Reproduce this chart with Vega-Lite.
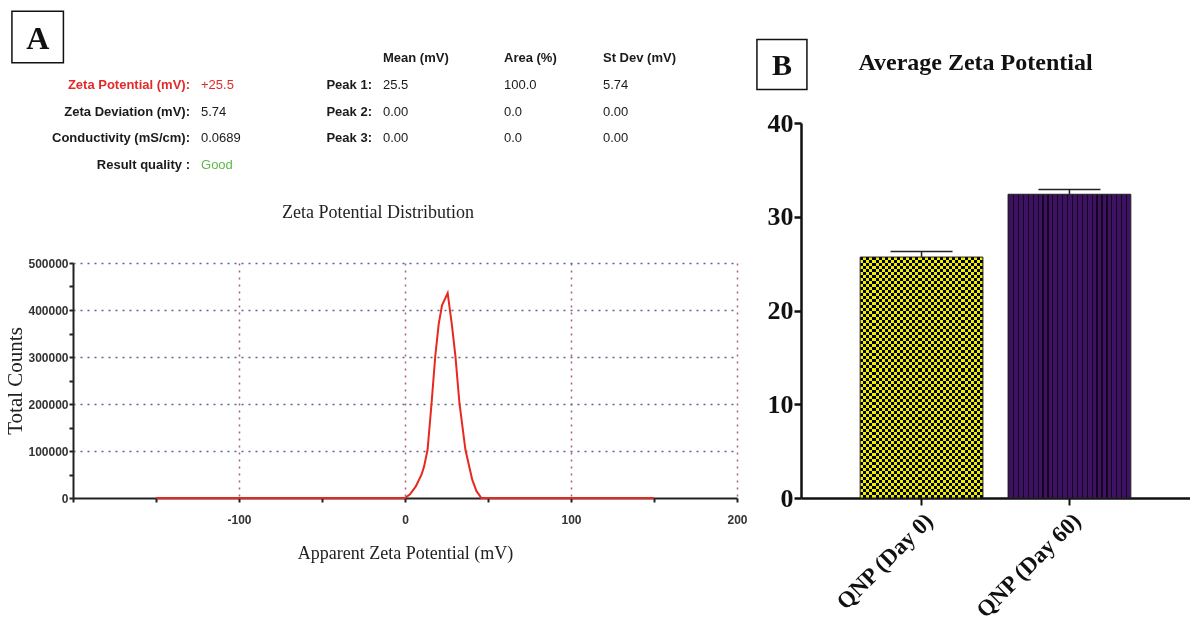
{
  "$schema": "https://vega.github.io/schema/vega-lite/v6.json",
  "background": "white",
  "padding": {"left": 4, "top": 8, "right": 0, "bottom": 0},
  "config": {"view": {"stroke": null}},
  "datasets": {
    "panels": [{"panel": "A"}, {"panel": "B"}],
    "summary": [
      {"row": 1, "label": "Zeta Potential (mV):", "value": "+25.5"},
      {"row": 2, "label": "Zeta Deviation (mV):", "value": "5.74"},
      {"row": 3, "label": "Conductivity (mS/cm):", "value": "0.0689"},
      {"row": 4, "label": "Result quality :", "value": "Good"}
    ],
    "peakHeader": [{"row": 0, "mean": "Mean (mV)", "area": "Area (%)", "sd": "St Dev (mV)"}],
    "peaks": [
      {"row": 1, "peak": "Peak 1:", "mean": "25.5", "area": "100.0", "sd": "5.74"},
      {"row": 2, "peak": "Peak 2:", "mean": "0.00", "area": "0.0", "sd": "0.00"},
      {"row": 3, "peak": "Peak 3:", "mean": "0.00", "area": "0.0", "sd": "0.00"}
    ],
    "distribution": [
      {"mv": -150, "counts": 0},
      {"mv": 0, "counts": 0},
      {"mv": 3, "counts": 8000},
      {"mv": 6.5, "counts": 24750},
      {"mv": 10, "counts": 50000},
      {"mv": 11.5, "counts": 67200},
      {"mv": 13.6, "counts": 102500},
      {"mv": 16, "counts": 201600},
      {"mv": 18.2, "counts": 300600},
      {"mv": 20.3, "counts": 370000},
      {"mv": 22.3, "counts": 410000},
      {"mv": 25.7, "counts": 436000},
      {"mv": 28.2, "counts": 370000},
      {"mv": 30.4, "counts": 300600},
      {"mv": 32.8, "counts": 201600},
      {"mv": 36.4, "counts": 102500},
      {"mv": 40.5, "counts": 38900},
      {"mv": 43, "counts": 15000},
      {"mv": 46, "counts": 0},
      {"mv": 150, "counts": 0}
    ],
    "average": [
      {"group": "QNP (Day 0)", "mean": 25.7, "upper": 26.3},
      {"group": "QNP (Day 60)", "mean": 32.4, "upper": 32.9}
    ]
  },
  "spacing": 5,
  "hconcat": [
    {
      "spacing": 88,
      "bounds": "flush",
      "vconcat": [
        {
          "width": 664,
          "height": 165,
          "layer": [
            {
              "data": {"name": "panels"},
              "transform": [{"filter": "datum.panel === 'A'"}],
              "mark": {"type": "point", "shape": "square", "size": 2650, "filled": false, "color": "#111", "strokeWidth": 1.5, "opacity": 1, "clip": false},
              "encoding": {
                "x": {"datum": -5.32, "type": "quantitative", "scale": {"domain": [0, 100], "nice": false, "zero": false}, "axis": null},
                "y": {"datum": -0.81, "type": "quantitative", "scale": {"domain": [-1.83, 4.396], "reverse": true, "nice": false, "zero": false}, "axis": null}
              }
            },
            {
              "data": {"name": "panels"},
              "transform": [{"filter": "datum.panel === 'A'"}],
              "mark": {"type": "text", "font": "Liberation Serif", "fontSize": 32, "fontWeight": "bold", "color": "#111", "align": "center", "baseline": "middle", "dy": 2, "clip": false},
              "encoding": {
                "x": {"datum": -5.32, "type": "quantitative", "scale": {"domain": [0, 100], "nice": false, "zero": false}, "axis": null},
                "y": {"datum": -0.81, "type": "quantitative", "scale": {"domain": [-1.83, 4.396], "reverse": true, "nice": false, "zero": false}, "axis": null},
                "text": {"field": "panel"}
              }
            },
            {
              "data": {"name": "summary"},
              "mark": {"type": "text", "font": "Liberation Sans", "fontSize": 13, "fontWeight": "bold", "align": "right", "baseline": "middle"},
              "encoding": {
                "x": {"datum": 17.62, "type": "quantitative", "scale": {"domain": [0, 100], "nice": false, "zero": false}, "axis": null},
                "y": {"field": "row", "type": "quantitative", "scale": {"domain": [-1.83, 4.396], "reverse": true, "nice": false, "zero": false}, "axis": null},
                "text": {"field": "label"},
                "color": {"condition": {"test": "datum.row === 1", "value": "#e32a2a"}, "value": "#1a1a1a"}
              }
            },
            {
              "data": {"name": "summary"},
              "mark": {"type": "text", "font": "Liberation Sans", "fontSize": 13, "align": "left", "baseline": "middle"},
              "encoding": {
                "x": {"datum": 19.28, "type": "quantitative", "scale": {"domain": [0, 100], "nice": false, "zero": false}, "axis": null},
                "y": {"field": "row", "type": "quantitative", "scale": {"domain": [-1.83, 4.396], "reverse": true, "nice": false, "zero": false}, "axis": null},
                "text": {"field": "value"},
                "color": {"condition": [{"test": "datum.row === 1", "value": "#e32a2a"}, {"test": "datum.row === 4", "value": "#5cba4a"}], "value": "#1a1a1a"}
              }
            },
            {
              "data": {"name": "peaks"},
              "mark": {"type": "text", "font": "Liberation Sans", "fontSize": 13, "fontWeight": "bold", "align": "right", "baseline": "middle", "color": "#1a1a1a"},
              "encoding": {
                "x": {"datum": 45.03, "type": "quantitative", "scale": {"domain": [0, 100], "nice": false, "zero": false}, "axis": null},
                "y": {"field": "row", "type": "quantitative", "scale": {"domain": [-1.83, 4.396], "reverse": true, "nice": false, "zero": false}, "axis": null},
                "text": {"field": "peak"}
              }
            },
            {
              "data": {"name": "peaks"},
              "mark": {"type": "text", "font": "Liberation Sans", "fontSize": 13, "align": "left", "baseline": "middle", "color": "#1a1a1a"},
              "encoding": {
                "x": {"datum": 46.69, "type": "quantitative", "scale": {"domain": [0, 100], "nice": false, "zero": false}, "axis": null},
                "y": {"field": "row", "type": "quantitative", "scale": {"domain": [-1.83, 4.396], "reverse": true, "nice": false, "zero": false}, "axis": null},
                "text": {"field": "mean"}
              }
            },
            {
              "data": {"name": "peaks"},
              "mark": {"type": "text", "font": "Liberation Sans", "fontSize": 13, "align": "left", "baseline": "middle", "color": "#1a1a1a"},
              "encoding": {
                "x": {"datum": 64.91, "type": "quantitative", "scale": {"domain": [0, 100], "nice": false, "zero": false}, "axis": null},
                "y": {"field": "row", "type": "quantitative", "scale": {"domain": [-1.83, 4.396], "reverse": true, "nice": false, "zero": false}, "axis": null},
                "text": {"field": "area"}
              }
            },
            {
              "data": {"name": "peaks"},
              "mark": {"type": "text", "font": "Liberation Sans", "fontSize": 13, "align": "left", "baseline": "middle", "color": "#1a1a1a"},
              "encoding": {
                "x": {"datum": 79.82, "type": "quantitative", "scale": {"domain": [0, 100], "nice": false, "zero": false}, "axis": null},
                "y": {"field": "row", "type": "quantitative", "scale": {"domain": [-1.83, 4.396], "reverse": true, "nice": false, "zero": false}, "axis": null},
                "text": {"field": "sd"}
              }
            },
            {
              "data": {"name": "peakHeader"},
              "mark": {"type": "text", "font": "Liberation Sans", "fontSize": 13, "fontWeight": "bold", "align": "left", "baseline": "middle", "color": "#1a1a1a"},
              "encoding": {
                "x": {"datum": 46.69, "type": "quantitative", "scale": {"domain": [0, 100], "nice": false, "zero": false}, "axis": null},
                "y": {"field": "row", "type": "quantitative", "scale": {"domain": [-1.83, 4.396], "reverse": true, "nice": false, "zero": false}, "axis": null},
                "text": {"field": "mean"}
              }
            },
            {
              "data": {"name": "peakHeader"},
              "mark": {"type": "text", "font": "Liberation Sans", "fontSize": 13, "fontWeight": "bold", "align": "left", "baseline": "middle", "color": "#1a1a1a"},
              "encoding": {
                "x": {"datum": 64.91, "type": "quantitative", "scale": {"domain": [0, 100], "nice": false, "zero": false}, "axis": null},
                "y": {"field": "row", "type": "quantitative", "scale": {"domain": [-1.83, 4.396], "reverse": true, "nice": false, "zero": false}, "axis": null},
                "text": {"field": "area"}
              }
            },
            {
              "data": {"name": "peakHeader"},
              "mark": {"type": "text", "font": "Liberation Sans", "fontSize": 13, "fontWeight": "bold", "align": "left", "baseline": "middle", "color": "#1a1a1a"},
              "encoding": {
                "x": {"datum": 79.82, "type": "quantitative", "scale": {"domain": [0, 100], "nice": false, "zero": false}, "axis": null},
                "y": {"field": "row", "type": "quantitative", "scale": {"domain": [-1.83, 4.396], "reverse": true, "nice": false, "zero": false}, "axis": null},
                "text": {"field": "sd"}
              }
            }
          ]
        },
        {
          "width": 664,
          "height": 235,
          "data": {"name": "distribution"},
          "title": {"text": "Zeta Potential Distribution", "font": "Liberation Serif", "fontSize": 18, "fontWeight": "normal", "color": "#222", "anchor": "middle", "dx": -27, "offset": 35},
          "mark": {"type": "line", "color": "#e8281e", "strokeWidth": 2},
          "encoding": {
            "x": {
              "field": "mv", "type": "quantitative",
              "scale": {"domain": [-200, 200], "nice": false, "zero": false},
              "axis": {
                "title": "Apparent Zeta Potential (mV)", "titleFont": "Liberation Serif", "titleFontSize": 18, "titleFontWeight": "normal", "titleColor": "#222", "titlePadding": 19,
                "values": [-200, -150, -100, -50, 0, 50, 100, 150, 200],
                "labelExpr": "datum.value % 100 === 0 && datum.value > -200 ? '' + datum.value : ''",
                "labelFont": "Liberation Sans", "labelFontSize": 12, "labelFontWeight": "bold", "labelColor": "#333", "labelPadding": 12,
                "labelFlush": false, "labelOverlap": false,
                "domainColor": "#222", "domainWidth": 2, "tickColor": "#222", "tickWidth": 2, "tickSize": 4,
                "grid": true, "gridColor": "#a8607e", "gridDash": [2, 5], "gridWidth": 1.5,
                "gridOpacity": {"condition": {"test": "datum.value % 100 === 0 && datum.value > -200", "value": 1}, "value": 0}
              }
            },
            "y": {
              "field": "counts", "type": "quantitative",
              "scale": {"domain": [0, 500000], "nice": false},
              "axis": {
                "title": "Total Counts", "titleFont": "Liberation Serif", "titleFontSize": 21, "titleFontWeight": "normal", "titleColor": "#222", "titlePadding": 2,
                "values": [0, 50000, 100000, 150000, 200000, 250000, 300000, 350000, 400000, 450000, 500000],
                "labelExpr": "datum.value % 100000 === 0 ? '' + datum.value : ''",
                "labelFont": "Liberation Sans", "labelFontSize": 12, "labelFontWeight": "bold", "labelColor": "#333", "labelPadding": 1,
                "labelOverlap": false,
                "domainColor": "#222", "domainWidth": 2, "tickColor": "#222", "tickWidth": 2, "tickSize": 4,
                "grid": true, "gridColor": "#5a6790", "gridDash": [2, 5], "gridWidth": 1.5,
                "gridOpacity": {"condition": {"test": "datum.value % 100000 === 0 && datum.value > 0", "value": 1}, "value": 0}
              }
            }
          }
        }
      ]
    },
    {
      "spacing": 20,
      "bounds": "flush",
      "vconcat": [
        {
          "width": 389,
          "height": 93,
          "data": {"name": "panels"},
          "transform": [{"filter": "datum.panel === 'B'"}],
          "encoding": {
            "x": {"datum": -4.9, "type": "quantitative", "scale": {"domain": [0, 100], "nice": false, "zero": false}, "axis": null},
            "y": {"datum": 58.6, "type": "quantitative", "scale": {"domain": [0, 100], "reverse": true, "nice": false, "zero": false}, "axis": null}
          },
          "layer": [
            {"mark": {"type": "point", "shape": "square", "size": 2500, "filled": false, "color": "#111", "strokeWidth": 1.5, "opacity": 1, "clip": false}},
            {"mark": {"type": "text", "font": "Liberation Serif", "fontSize": 30, "fontWeight": "bold", "color": "#111", "align": "center", "baseline": "middle", "dy": 2, "clip": false}, "encoding": {"text": {"field": "panel"}}}
          ]
        },
        {
          "width": 389,
          "height": 375,
          "data": {"name": "average"},
          "title": {"text": "Average Zeta Potential", "font": "Liberation Serif", "fontSize": 24, "fontWeight": "bold", "color": "#111", "anchor": "middle", "dx": -20, "offset": 35},
          "encoding": {
            "x": {
              "field": "group", "type": "nominal", "sort": null,
              "scale": {"domain": ["QNP (Day 0)", "QNP (Day 60)"], "paddingInner": 0.17, "paddingOuter": 0.4},
              "axis": {"title": null, "labelAngle": -45, "labelFont": "Liberation Serif", "labelFontSize": 23, "labelFontWeight": "bold", "labelColor": "#111", "labelPadding": 4, "domainColor": "#111", "domainWidth": 2.5, "tickColor": "#111", "tickWidth": 2, "tickSize": 7, "grid": false}
            },
            "y": {
              "field": "mean", "type": "quantitative",
              "scale": {"domain": [0, 40], "nice": false},
              "axis": {"title": null, "values": [0, 10, 20, 30, 40], "labelFont": "Liberation Serif", "labelFontSize": 26, "labelFontWeight": "bold", "labelColor": "#111", "labelPadding": 1, "domainColor": "#111", "domainWidth": 2.5, "tickColor": "#111", "tickWidth": 2.5, "tickSize": 7, "grid": false}
            }
          },
          "layer": [
            {
              "transform": [{"filter": "datum.group === 'QNP (Day 0)'"}],
              "mark": {"type": "bar", "fill": {"gradient": "linear", "x1": 0, "y1": 0, "x2": 1, "y2": 0, "stops": [
                {"offset":0,"color":"#ee0"},{"offset":0.025,"color":"#ee0"},{"offset":0.025,"color":"#000"},{"offset":0.05,"color":"#000"},
                {"offset":0.05,"color":"#ee0"},{"offset":0.075,"color":"#ee0"},{"offset":0.075,"color":"#000"},{"offset":0.1,"color":"#000"},
                {"offset":0.1,"color":"#ee0"},{"offset":0.125,"color":"#ee0"},{"offset":0.125,"color":"#000"},{"offset":0.15,"color":"#000"},
                {"offset":0.15,"color":"#ee0"},{"offset":0.175,"color":"#ee0"},{"offset":0.175,"color":"#000"},{"offset":0.2,"color":"#000"},
                {"offset":0.2,"color":"#ee0"},{"offset":0.225,"color":"#ee0"},{"offset":0.225,"color":"#000"},{"offset":0.25,"color":"#000"},
                {"offset":0.25,"color":"#ee0"},{"offset":0.275,"color":"#ee0"},{"offset":0.275,"color":"#000"},{"offset":0.3,"color":"#000"},
                {"offset":0.3,"color":"#ee0"},{"offset":0.325,"color":"#ee0"},{"offset":0.325,"color":"#000"},{"offset":0.35,"color":"#000"},
                {"offset":0.35,"color":"#ee0"},{"offset":0.375,"color":"#ee0"},{"offset":0.375,"color":"#000"},{"offset":0.4,"color":"#000"},
                {"offset":0.4,"color":"#ee0"},{"offset":0.425,"color":"#ee0"},{"offset":0.425,"color":"#000"},{"offset":0.45,"color":"#000"},
                {"offset":0.45,"color":"#ee0"},{"offset":0.475,"color":"#ee0"},{"offset":0.475,"color":"#000"},{"offset":0.5,"color":"#000"},
                {"offset":0.5,"color":"#ee0"},{"offset":0.525,"color":"#ee0"},{"offset":0.525,"color":"#000"},{"offset":0.55,"color":"#000"},
                {"offset":0.55,"color":"#ee0"},{"offset":0.575,"color":"#ee0"},{"offset":0.575,"color":"#000"},{"offset":0.6,"color":"#000"},
                {"offset":0.6,"color":"#ee0"},{"offset":0.625,"color":"#ee0"},{"offset":0.625,"color":"#000"},{"offset":0.65,"color":"#000"},
                {"offset":0.65,"color":"#ee0"},{"offset":0.675,"color":"#ee0"},{"offset":0.675,"color":"#000"},{"offset":0.7,"color":"#000"},
                {"offset":0.7,"color":"#ee0"},{"offset":0.725,"color":"#ee0"},{"offset":0.725,"color":"#000"},{"offset":0.75,"color":"#000"},
                {"offset":0.75,"color":"#ee0"},{"offset":0.775,"color":"#ee0"},{"offset":0.775,"color":"#000"},{"offset":0.8,"color":"#000"},
                {"offset":0.8,"color":"#ee0"},{"offset":0.825,"color":"#ee0"},{"offset":0.825,"color":"#000"},{"offset":0.85,"color":"#000"},
                {"offset":0.85,"color":"#ee0"},{"offset":0.875,"color":"#ee0"},{"offset":0.875,"color":"#000"},{"offset":0.9,"color":"#000"},
                {"offset":0.9,"color":"#ee0"},{"offset":0.925,"color":"#ee0"},{"offset":0.925,"color":"#000"},{"offset":0.95,"color":"#000"},
                {"offset":0.95,"color":"#ee0"},{"offset":0.975,"color":"#ee0"},{"offset":0.975,"color":"#000"},{"offset":1,"color":"#000"}
              ]}}
            },
            {
              "transform": [{"filter": "datum.group === 'QNP (Day 0)'"}],
              "mark": {"type": "bar", "blend": "difference", "fill": {"gradient": "linear", "x1": 0, "y1": 0, "x2": 0, "y2": 1, "stops": [
                {"offset":0,"color":"#ee0"},{"offset":0.0125,"color":"#ee0"},{"offset":0.0125,"color":"#000"},{"offset":0.025,"color":"#000"},
                {"offset":0.025,"color":"#ee0"},{"offset":0.0375,"color":"#ee0"},{"offset":0.0375,"color":"#000"},{"offset":0.05,"color":"#000"},
                {"offset":0.05,"color":"#ee0"},{"offset":0.0625,"color":"#ee0"},{"offset":0.0625,"color":"#000"},{"offset":0.075,"color":"#000"},
                {"offset":0.075,"color":"#ee0"},{"offset":0.0875,"color":"#ee0"},{"offset":0.0875,"color":"#000"},{"offset":0.1,"color":"#000"},
                {"offset":0.1,"color":"#ee0"},{"offset":0.1125,"color":"#ee0"},{"offset":0.1125,"color":"#000"},{"offset":0.125,"color":"#000"},
                {"offset":0.125,"color":"#ee0"},{"offset":0.1375,"color":"#ee0"},{"offset":0.1375,"color":"#000"},{"offset":0.15,"color":"#000"},
                {"offset":0.15,"color":"#ee0"},{"offset":0.1625,"color":"#ee0"},{"offset":0.1625,"color":"#000"},{"offset":0.175,"color":"#000"},
                {"offset":0.175,"color":"#ee0"},{"offset":0.1875,"color":"#ee0"},{"offset":0.1875,"color":"#000"},{"offset":0.2,"color":"#000"},
                {"offset":0.2,"color":"#ee0"},{"offset":0.2125,"color":"#ee0"},{"offset":0.2125,"color":"#000"},{"offset":0.225,"color":"#000"},
                {"offset":0.225,"color":"#ee0"},{"offset":0.2375,"color":"#ee0"},{"offset":0.2375,"color":"#000"},{"offset":0.25,"color":"#000"},
                {"offset":0.25,"color":"#ee0"},{"offset":0.2625,"color":"#ee0"},{"offset":0.2625,"color":"#000"},{"offset":0.275,"color":"#000"},
                {"offset":0.275,"color":"#ee0"},{"offset":0.2875,"color":"#ee0"},{"offset":0.2875,"color":"#000"},{"offset":0.3,"color":"#000"},
                {"offset":0.3,"color":"#ee0"},{"offset":0.3125,"color":"#ee0"},{"offset":0.3125,"color":"#000"},{"offset":0.325,"color":"#000"},
                {"offset":0.325,"color":"#ee0"},{"offset":0.3375,"color":"#ee0"},{"offset":0.3375,"color":"#000"},{"offset":0.35,"color":"#000"},
                {"offset":0.35,"color":"#ee0"},{"offset":0.3625,"color":"#ee0"},{"offset":0.3625,"color":"#000"},{"offset":0.375,"color":"#000"},
                {"offset":0.375,"color":"#ee0"},{"offset":0.3875,"color":"#ee0"},{"offset":0.3875,"color":"#000"},{"offset":0.4,"color":"#000"},
                {"offset":0.4,"color":"#ee0"},{"offset":0.4125,"color":"#ee0"},{"offset":0.4125,"color":"#000"},{"offset":0.425,"color":"#000"},
                {"offset":0.425,"color":"#ee0"},{"offset":0.4375,"color":"#ee0"},{"offset":0.4375,"color":"#000"},{"offset":0.45,"color":"#000"},
                {"offset":0.45,"color":"#ee0"},{"offset":0.4625,"color":"#ee0"},{"offset":0.4625,"color":"#000"},{"offset":0.475,"color":"#000"},
                {"offset":0.475,"color":"#ee0"},{"offset":0.4875,"color":"#ee0"},{"offset":0.4875,"color":"#000"},{"offset":0.5,"color":"#000"},
                {"offset":0.5,"color":"#ee0"},{"offset":0.5125,"color":"#ee0"},{"offset":0.5125,"color":"#000"},{"offset":0.525,"color":"#000"},
                {"offset":0.525,"color":"#ee0"},{"offset":0.5375,"color":"#ee0"},{"offset":0.5375,"color":"#000"},{"offset":0.55,"color":"#000"},
                {"offset":0.55,"color":"#ee0"},{"offset":0.5625,"color":"#ee0"},{"offset":0.5625,"color":"#000"},{"offset":0.575,"color":"#000"},
                {"offset":0.575,"color":"#ee0"},{"offset":0.5875,"color":"#ee0"},{"offset":0.5875,"color":"#000"},{"offset":0.6,"color":"#000"},
                {"offset":0.6,"color":"#ee0"},{"offset":0.6125,"color":"#ee0"},{"offset":0.6125,"color":"#000"},{"offset":0.625,"color":"#000"},
                {"offset":0.625,"color":"#ee0"},{"offset":0.6375,"color":"#ee0"},{"offset":0.6375,"color":"#000"},{"offset":0.65,"color":"#000"},
                {"offset":0.65,"color":"#ee0"},{"offset":0.6625,"color":"#ee0"},{"offset":0.6625,"color":"#000"},{"offset":0.675,"color":"#000"},
                {"offset":0.675,"color":"#ee0"},{"offset":0.6875,"color":"#ee0"},{"offset":0.6875,"color":"#000"},{"offset":0.7,"color":"#000"},
                {"offset":0.7,"color":"#ee0"},{"offset":0.7125,"color":"#ee0"},{"offset":0.7125,"color":"#000"},{"offset":0.725,"color":"#000"},
                {"offset":0.725,"color":"#ee0"},{"offset":0.7375,"color":"#ee0"},{"offset":0.7375,"color":"#000"},{"offset":0.75,"color":"#000"},
                {"offset":0.75,"color":"#ee0"},{"offset":0.7625,"color":"#ee0"},{"offset":0.7625,"color":"#000"},{"offset":0.775,"color":"#000"},
                {"offset":0.775,"color":"#ee0"},{"offset":0.7875,"color":"#ee0"},{"offset":0.7875,"color":"#000"},{"offset":0.8,"color":"#000"},
                {"offset":0.8,"color":"#ee0"},{"offset":0.8125,"color":"#ee0"},{"offset":0.8125,"color":"#000"},{"offset":0.825,"color":"#000"},
                {"offset":0.825,"color":"#ee0"},{"offset":0.8375,"color":"#ee0"},{"offset":0.8375,"color":"#000"},{"offset":0.85,"color":"#000"},
                {"offset":0.85,"color":"#ee0"},{"offset":0.8625,"color":"#ee0"},{"offset":0.8625,"color":"#000"},{"offset":0.875,"color":"#000"},
                {"offset":0.875,"color":"#ee0"},{"offset":0.8875,"color":"#ee0"},{"offset":0.8875,"color":"#000"},{"offset":0.9,"color":"#000"},
                {"offset":0.9,"color":"#ee0"},{"offset":0.9125,"color":"#ee0"},{"offset":0.9125,"color":"#000"},{"offset":0.925,"color":"#000"},
                {"offset":0.925,"color":"#ee0"},{"offset":0.9375,"color":"#ee0"},{"offset":0.9375,"color":"#000"},{"offset":0.95,"color":"#000"},
                {"offset":0.95,"color":"#ee0"},{"offset":0.9625,"color":"#ee0"},{"offset":0.9625,"color":"#000"},{"offset":0.975,"color":"#000"},
                {"offset":0.975,"color":"#ee0"},{"offset":0.9875,"color":"#ee0"},{"offset":0.9875,"color":"#000"},{"offset":1,"color":"#000"}
              ]}}
            },
            {
              "transform": [{"filter": "datum.group === 'QNP (Day 60)'"}],
              "mark": {"type": "bar", "fill": {"gradient": "linear", "x1": 0, "y1": 0, "x2": 1, "y2": 0, "stops": [
                {"offset":0,"color":"#14061e"},{"offset":0.01,"color":"#14061e"},{"offset":0.01,"color":"#3e1263"},{"offset":0.04,"color":"#3e1263"},
                {"offset":0.04,"color":"#14061e"},{"offset":0.05,"color":"#14061e"},{"offset":0.05,"color":"#3e1263"},{"offset":0.08,"color":"#3e1263"},
                {"offset":0.08,"color":"#14061e"},{"offset":0.09,"color":"#14061e"},{"offset":0.09,"color":"#3e1263"},{"offset":0.12,"color":"#3e1263"},
                {"offset":0.12,"color":"#14061e"},{"offset":0.13,"color":"#14061e"},{"offset":0.13,"color":"#3e1263"},{"offset":0.16,"color":"#3e1263"},
                {"offset":0.16,"color":"#14061e"},{"offset":0.17,"color":"#14061e"},{"offset":0.17,"color":"#3e1263"},{"offset":0.2,"color":"#3e1263"},
                {"offset":0.2,"color":"#14061e"},{"offset":0.21,"color":"#14061e"},{"offset":0.21,"color":"#3e1263"},{"offset":0.24,"color":"#3e1263"},
                {"offset":0.24,"color":"#14061e"},{"offset":0.25,"color":"#14061e"},{"offset":0.25,"color":"#3e1263"},{"offset":0.28,"color":"#3e1263"},
                {"offset":0.28,"color":"#14061e"},{"offset":0.29,"color":"#14061e"},{"offset":0.29,"color":"#3e1263"},{"offset":0.32,"color":"#3e1263"},
                {"offset":0.32,"color":"#14061e"},{"offset":0.33,"color":"#14061e"},{"offset":0.33,"color":"#3e1263"},{"offset":0.36,"color":"#3e1263"},
                {"offset":0.36,"color":"#14061e"},{"offset":0.37,"color":"#14061e"},{"offset":0.37,"color":"#3e1263"},{"offset":0.4,"color":"#3e1263"},
                {"offset":0.4,"color":"#14061e"},{"offset":0.41,"color":"#14061e"},{"offset":0.41,"color":"#3e1263"},{"offset":0.44,"color":"#3e1263"},
                {"offset":0.44,"color":"#14061e"},{"offset":0.45,"color":"#14061e"},{"offset":0.45,"color":"#3e1263"},{"offset":0.48,"color":"#3e1263"},
                {"offset":0.48,"color":"#14061e"},{"offset":0.49,"color":"#14061e"},{"offset":0.49,"color":"#3e1263"},{"offset":0.52,"color":"#3e1263"},
                {"offset":0.52,"color":"#14061e"},{"offset":0.53,"color":"#14061e"},{"offset":0.53,"color":"#3e1263"},{"offset":0.56,"color":"#3e1263"},
                {"offset":0.56,"color":"#14061e"},{"offset":0.57,"color":"#14061e"},{"offset":0.57,"color":"#3e1263"},{"offset":0.6,"color":"#3e1263"},
                {"offset":0.6,"color":"#14061e"},{"offset":0.61,"color":"#14061e"},{"offset":0.61,"color":"#3e1263"},{"offset":0.64,"color":"#3e1263"},
                {"offset":0.64,"color":"#14061e"},{"offset":0.65,"color":"#14061e"},{"offset":0.65,"color":"#3e1263"},{"offset":0.68,"color":"#3e1263"},
                {"offset":0.68,"color":"#14061e"},{"offset":0.69,"color":"#14061e"},{"offset":0.69,"color":"#3e1263"},{"offset":0.72,"color":"#3e1263"},
                {"offset":0.72,"color":"#14061e"},{"offset":0.73,"color":"#14061e"},{"offset":0.73,"color":"#3e1263"},{"offset":0.76,"color":"#3e1263"},
                {"offset":0.76,"color":"#14061e"},{"offset":0.77,"color":"#14061e"},{"offset":0.77,"color":"#3e1263"},{"offset":0.8,"color":"#3e1263"},
                {"offset":0.8,"color":"#14061e"},{"offset":0.81,"color":"#14061e"},{"offset":0.81,"color":"#3e1263"},{"offset":0.84,"color":"#3e1263"},
                {"offset":0.84,"color":"#14061e"},{"offset":0.85,"color":"#14061e"},{"offset":0.85,"color":"#3e1263"},{"offset":0.88,"color":"#3e1263"},
                {"offset":0.88,"color":"#14061e"},{"offset":0.89,"color":"#14061e"},{"offset":0.89,"color":"#3e1263"},{"offset":0.92,"color":"#3e1263"},
                {"offset":0.92,"color":"#14061e"},{"offset":0.93,"color":"#14061e"},{"offset":0.93,"color":"#3e1263"},{"offset":0.96,"color":"#3e1263"},
                {"offset":0.96,"color":"#14061e"},{"offset":0.97,"color":"#14061e"},{"offset":0.97,"color":"#3e1263"},{"offset":1,"color":"#3e1263"}
              ]}}
            },
            {
              "mark": {"type": "bar", "fillOpacity": 0, "stroke": "#222", "strokeWidth": 1}
            },
            {
              "mark": {"type": "rule", "color": "#222", "strokeWidth": 1.5},
              "encoding": {"y2": {"field": "upper"}}
            },
            {
              "mark": {"type": "tick", "color": "#222", "thickness": 1.5, "size": 62, "opacity": 1},
              "encoding": {"y": {"field": "upper", "type": "quantitative", "title": null, "scale": {"domain": [0, 40], "nice": false}}}
            }
          ]
        }
      ]
    }
  ]
}
